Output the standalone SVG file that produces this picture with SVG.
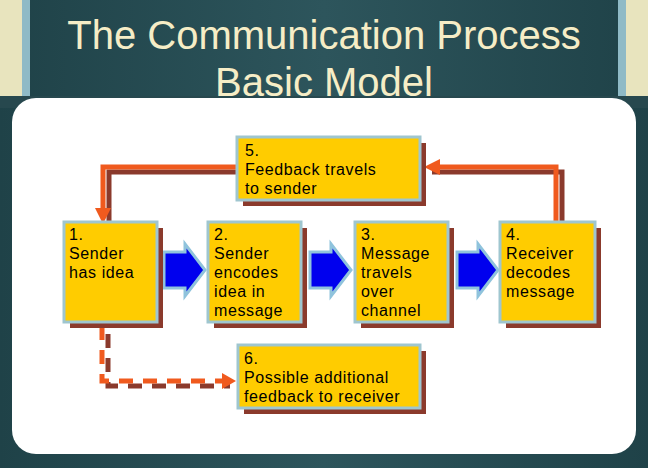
<svg xmlns="http://www.w3.org/2000/svg" width="648" height="468" viewBox="0 0 648 468">
<defs>
<style>
.box{fill:#FFCC00;stroke:#9FC6CF;stroke-width:3}
.sh{fill:#8B3A2C}
.t{font-family:"Liberation Sans",Arial,sans-serif;font-size:16px;letter-spacing:0.6px;fill:#000}
.ttl{font-family:"Liberation Sans",Arial,sans-serif;font-size:40px;fill:#F6EDC6;text-anchor:middle}
.ln{fill:none;stroke:#F05A1E;stroke-width:5}
.lns{fill:none;stroke:#8B3A2C;stroke-width:5}
.blue{fill:#0000EE;stroke:#8FC3DC;stroke-width:3}
</style>
<linearGradient id="bg" x1="0" x2="1" y1="0" y2="0">
<stop offset="0" stop-color="#1f4248"/><stop offset="0.5" stop-color="#2d555c"/><stop offset="1" stop-color="#1f4248"/>
</linearGradient>
</defs>
<rect width="648" height="468" fill="url(#bg)"/>
<rect x="0" y="0" width="22" height="96" fill="#E8E4BE"/>
<rect x="22" y="0" width="8" height="96" fill="#8FBAC6"/>
<rect x="626" y="0" width="22" height="96" fill="#E8E4BE"/>
<rect x="618" y="0" width="8" height="96" fill="#8FBAC6"/>
<rect x="0" y="96" width="648" height="12" fill="#27484e"/>
<text class="ttl" x="324" y="49">The Communication Process</text>
<rect x="12" y="98" width="624" height="356" rx="24" fill="#fff"/>
<text class="ttl" x="324" y="96">Basic Model</text>
<g id="connectors">
<path class="lns" d="M241 172 H109 V228"/>
<path class="ln" d="M237 167 H103 V212"/>
<path d="M95 208 L103 224 L111 208 Z" fill="#F05A1E"/>
<path class="lns" d="M562 292 V172 H432"/>
<path class="ln" d="M556 276 V167 H436"/>
<path d="M440 159 L424 167 L440 175 Z" fill="#F05A1E"/>
<path class="lns" d="M108 334 V386 H230" stroke-dasharray="14 10"/>
<path class="ln" d="M102 326 V381 H224" stroke-dasharray="14 10"/>
<path d="M222 373 L236 381 L222 389 Z" fill="#F05A1E"/>
<path d="M164 252 H185 V244 L205 270 L185 296 V288 H164 Z" class="blue"/>
<path d="M310 252 H331 V244 L351 270 L331 296 V288 H310 Z" class="blue"/>
<path d="M457 252 H478 V244 L498 270 L478 296 V288 H457 Z" class="blue"/>
</g>
<g id="n5"><rect class="sh" x="243" y="143" width="183" height="63"/><rect class="box" x="237" y="137" width="183" height="63"/>
<text class="t" x="245" y="156">5.</text><text class="t" x="245" y="175">Feedback travels</text><text class="t" x="245" y="194">to sender</text></g>
<g id="n1"><rect class="sh" x="70" y="228" width="93" height="100"/><rect class="box" x="64" y="222" width="93" height="100"/>
<text class="t" x="69" y="240">1.</text><text class="t" x="69" y="259">Sender</text><text class="t" x="69" y="278">has idea</text></g>
<g id="n2"><rect class="sh" x="214" y="228" width="93" height="100"/><rect class="box" x="208" y="222" width="93" height="100"/>
<text class="t" x="214" y="240">2.</text><text class="t" x="214" y="259">Sender</text><text class="t" x="214" y="278">encodes</text><text class="t" x="214" y="297">idea in</text><text class="t" x="214" y="316">message</text></g>
<g id="n3"><rect class="sh" x="361" y="228" width="93" height="100"/><rect class="box" x="355" y="222" width="93" height="100"/>
<text class="t" x="361" y="240">3.</text><text class="t" x="361" y="259">Message</text><text class="t" x="361" y="278">travels</text><text class="t" x="361" y="297">over</text><text class="t" x="361" y="316">channel</text></g>
<g id="n4"><rect class="sh" x="506" y="228" width="95" height="100"/><rect class="box" x="500" y="222" width="95" height="100"/>
<text class="t" x="506" y="240">4.</text><text class="t" x="506" y="259">Receiver</text><text class="t" x="506" y="278">decodes</text><text class="t" x="506" y="297">message</text></g>
<g id="n6"><rect class="sh" x="244" y="351" width="182" height="63"/><rect class="box" x="238" y="345" width="182" height="63"/>
<text class="t" x="244" y="364">6.</text><text class="t" x="244" y="383">Possible additional</text><text class="t" x="244" y="402">feedback to receiver</text></g>
</svg>
